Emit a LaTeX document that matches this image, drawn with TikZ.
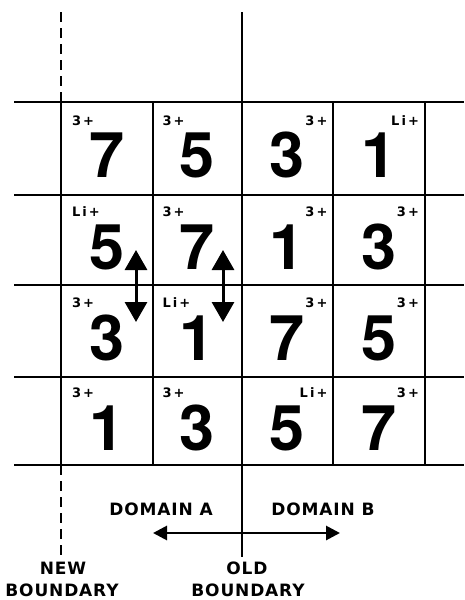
\documentclass[tikz,border=0pt]{standalone}
\usepackage{fontspec}
\setmainfont{TeX Gyre Heros}
\newfontfamily\capsfont[LetterSpace=5]{DejaVu Sans}
\newfontfamily\ionfont[LetterSpace=16]{DejaVu Sans}
\usetikzlibrary{arrows.meta,positioning}
\tikzset{
  gridline/.style={line width=2.8pt},
  boundline/.style={line width=2.8pt,dash pattern=on 10pt off 6pt},
  cellbox/.style={minimum width=90pt,minimum height=90pt,inner sep=0pt,font=\fontsize{63}{63}\selectfont\bfseries,text height=58pt,text depth=0pt},
  ionleft/.style={below right=12pt and 10pt of #1.north west,inner sep=0pt,font=\ionfont\fontsize{13}{13}\selectfont\bfseries},
  ionright/.style={below left=12pt and 5pt of #1.north east,inner sep=0pt,font=\ionfont\fontsize{13}{13}\selectfont\bfseries},
  captext/.style={inner sep=0pt,font=\capsfont\fontsize{17}{17}\selectfont\bfseries},
  swaparrow/.style={{Triangle[length=20pt,width=22pt]}-{Triangle[length=20pt,width=22pt]},line width=3pt},
  domainarrow/.style={{Triangle[length=14pt,width=14pt]}-{Triangle[length=14pt,width=14pt]},line width=2.8pt}
}
\begin{document}
\begin{tikzpicture}[x=1pt,y=1pt]
  \useasboundingbox (0,0) rectangle (464,-600);
  % lattice
  \foreach \y in {102,195,285,377,465}
    \draw[gridline] (14,-\y) -- (464,-\y);
  \foreach \x in {61,153,333,425}
    \draw[gridline] (\x,-102) -- (\x,-465);
  % boundaries
  \draw[boundline] (61,-12) -- (61,-102);
  \draw[boundline] (61,-465) -- (61,-555);
  \draw[gridline] (242,-12) -- (242,-557);
  % cells, row 1
  \node[cellbox] (c11) at (107,-148.5) {7};
  \node[cellbox] (c12) at (197.5,-148.5) {5};
  \node[cellbox] (c13) at (287.5,-148.5) {3};
  \node[cellbox] (c14) at (379,-148.5) {1};
  \node[ionleft=c11] (i11) {3+};
  \node[ionleft=c12] (i12) {3+};
  \node[ionright=c13] (i13) {3+};
  \node[ionright=c14] (i14) {Li+};
  % row 2
  \node[cellbox] (c21) at (107,-240) {5};
  \node[cellbox] (c22) at (197.5,-240) {7};
  \node[cellbox] (c23) at (287.5,-240) {1};
  \node[cellbox] (c24) at (379,-240) {3};
  \node[ionleft=c21] (i21) {Li+};
  \node[ionleft=c22] (i22) {3+};
  \node[ionright=c23] (i23) {3+};
  \node[ionright=c24] (i24) {3+};
  % row 3
  \node[cellbox] (c31) at (107,-331) {3};
  \node[cellbox] (c32) at (197.5,-331) {1};
  \node[cellbox] (c33) at (287.5,-331) {7};
  \node[cellbox] (c34) at (379,-331) {5};
  \node[ionleft=c31] (i31) {3+};
  \node[ionleft=c32] (i32) {Li+};
  \node[ionright=c33] (i33) {3+};
  \node[ionright=c34] (i34) {3+};
  % row 4
  \node[cellbox] (c41) at (107,-421) {1};
  \node[cellbox] (c42) at (197.5,-421) {3};
  \node[cellbox] (c43) at (287.5,-421) {5};
  \node[cellbox] (c44) at (379,-421) {7};
  \node[ionleft=c41] (i41) {3+};
  \node[ionleft=c42] (i42) {3+};
  \node[ionright=c43] (i43) {Li+};
  \node[ionright=c44] (i44) {3+};
  % exchange arrows
  \coordinate (swapAtop) at (136,-250);
  \coordinate (swapAbot) at (136,-322);
  \coordinate (swapBtop) at (223,-250);
  \coordinate (swapBbot) at (223,-322);
  \draw[swaparrow] (swapAtop) -- (swapAbot);
  \draw[swaparrow] (swapBtop) -- (swapBbot);
  % labels below
  \node[captext] (doma) at (161,-509) {DOMAIN A};
  \node[captext] (domb) at (323,-509) {DOMAIN B};
  \coordinate (domleft) at (153,-533);
  \coordinate (domright) at (340,-533);
  \draw[domainarrow] (domleft) -- (domright);
  \node[captext] (newb) at (63,-568) {NEW};
  \node[captext] (newb2) at (62,-590) {BOUNDARY};
  \node[captext] (oldb) at (247,-568) {OLD};
  \node[captext] (oldb2) at (248,-590) {BOUNDARY};
\end{tikzpicture}
\end{document}
